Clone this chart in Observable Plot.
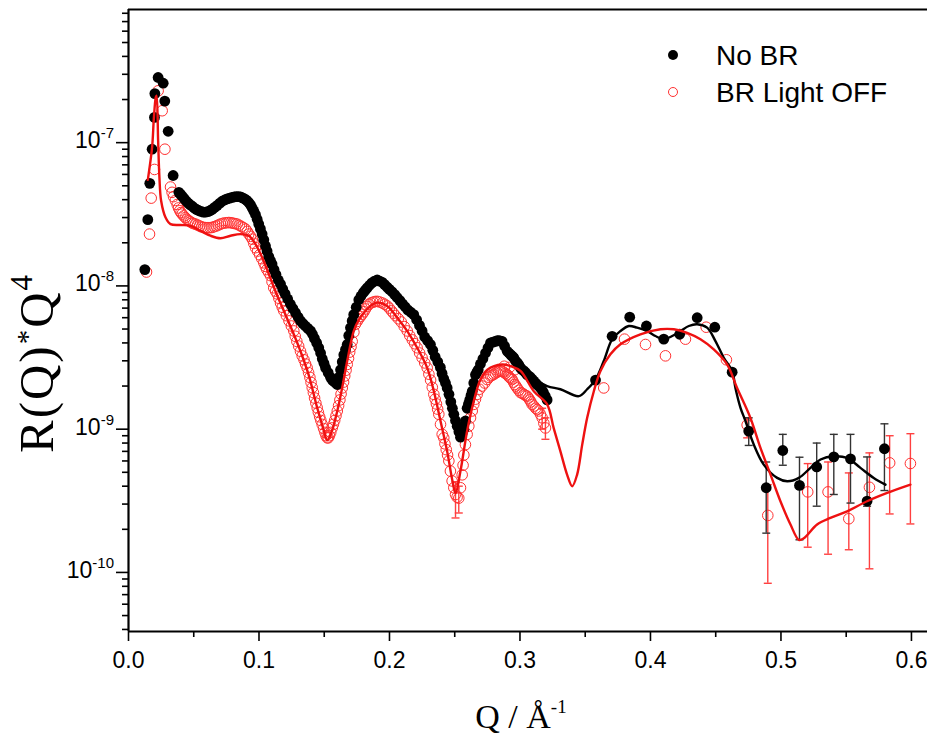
<!DOCTYPE html>
<html>
<head>
<meta charset="utf-8">
<script src="https://cdn.jsdelivr.net/npm/d3@7"></script>
<script src="https://cdn.jsdelivr.net/npm/@observablehq/plot@0.6"></script>
<style>
  html, body { margin: 0; padding: 0; background: #fff; }
  #chart svg { display: block; }
</style>
</head>
<body>
<div id="chart"></div>
<script>
// ---------- axis ticks ----------
const xMajor = [0.0, 0.1, 0.2, 0.3, 0.4, 0.5, 0.6];
const xMinor = [0.05, 0.15, 0.25, 0.35, 0.45, 0.55];
const yMajor = [1e-10, 1e-9, 1e-8, 1e-7];
const yMajorExp = ["-10", "-9", "-8", "-7"];
const yMinor = [4e-11, 5e-11, 6e-11, 7e-11, 8e-11, 9e-11,
  2e-10, 3e-10, 4e-10, 5e-10, 6e-10, 7e-10, 8e-10, 9e-10,
  2e-9, 3e-9, 4e-9, 5e-9, 6e-9, 7e-9, 8e-9, 9e-9,
  2e-8, 3e-8, 4e-8, 5e-8, 6e-8, 7e-8, 8e-8, 9e-8,
  2e-7, 3e-7, 4e-7, 5e-7, 6e-7, 7e-7, 8e-7];
const xDomain = [0, 0.6123];
const yDomain = [3.87e-11, 8.5e-7];

// ---------- series: No BR (data) ----------
const noBrQ = [0.0125,0.0148,0.0163,0.0181,0.0199,0.0202,0.0227,0.0266,0.0278,0.0304,0.0342,
  0.0386,0.0400,0.0414,0.0428,0.0443,0.0458,0.0473,0.0488,0.0503,0.0520,0.0537,0.0555,0.0573,0.0590,0.0609,0.0625,0.0641,0.0660,0.0680,0.0700,0.0718,0.0737,0.0756,0.0775,0.0794,0.0810,0.0826,0.0842,0.0858,0.0874,0.0890,0.0906,0.0922,0.0935,0.0948,0.0960,0.0973,0.0986,0.0998,
  0.1011,0.1024,0.1037,0.1050,0.1062,0.1075,0.1088,0.1100,0.1115,0.1130,0.1148,0.1165,0.1182,0.1200,0.1220,0.1241,0.1260,0.1280,0.1300,0.1318,0.1337,0.1355,0.1375,0.1395,0.1410,0.1425,0.1442,0.1458,0.1472,0.1485,0.1498,0.1510,0.1530,0.1548,0.1562,0.1575,0.1588,0.1600,0.1612,0.1625,0.1638,0.1650,0.1663,0.1676,0.1688,0.1701,0.1714,0.1726,0.1745,0.1765,0.1782,0.1800,0.1815,0.1829,0.1847,0.1865,0.1885,0.1906,0.1925,0.1945,0.1963,0.1982,
  0.2000,0.2020,0.2040,0.2059,0.2080,0.2100,0.2120,0.2140,0.2163,0.2186,0.2208,0.2230,0.2250,0.2270,0.2292,0.2314,0.2332,0.2350,0.2370,0.2390,0.2403,0.2416,0.2429,0.2442,0.2456,0.2470,0.2482,0.2493,0.2506,0.2519,0.2532,0.2544,0.2557,0.2570,0.2582,0.2595,0.2605,0.2615,0.2625,0.2634,0.2646,0.2659,0.2670,0.2680,0.2697,0.2716,0.2736,0.2755,0.2774,0.2793,0.2812,0.2826,0.2840,0.2852,0.2863,0.2882,0.2902,0.2916,0.2930,0.2942,0.2953,0.2966,0.2980,0.2992,
  0.3004,0.3017,0.3030,0.3043,0.3055,0.3068,0.3080,0.3093,0.3106,0.3118,0.3130,0.3143,0.3157,0.3170,0.3180,0.3194,0.3208,
  0.3579,0.3706,0.3841,0.3969,0.4102,0.4224,0.4358,0.4493,0.4626,0.4753,0.4887,0.5014,0.5142,0.5274,0.5405,0.5533,0.5660,0.5793];
const noBrR = [1.3e-8,2.9e-8,5.2e-8,9.0e-8,1.5e-7,2.2e-7,2.85e-7,2.6e-7,1.95e-7,1.2e-7,5.9e-8,
  4.5e-8,4.35e-8,4.2e-8,4.05e-8,3.9e-8,3.78e-8,3.68e-8,3.6e-8,3.5e-8,3.42e-8,3.36e-8,3.31e-8,3.27e-8,3.27e-8,3.3e-8,3.35e-8,3.42e-8,3.53e-8,3.65e-8,3.78e-8,3.9e-8,3.98e-8,4.05e-8,4.1e-8,4.15e-8,4.18e-8,4.2e-8,4.2e-8,4.18e-8,4.12e-8,4.05e-8,3.95e-8,3.82e-8,3.68e-8,3.5e-8,3.33e-8,3.15e-8,2.92e-8,2.7e-8,
  2.5e-8,2.3e-8,2.1e-8,1.9e-8,1.75e-8,1.6e-8,1.5e-8,1.42e-8,1.3e-8,1.2e-8,1.1e-8,1.03e-8,9.5e-9,8.8e-9,8.1e-9,7.45e-9,6.95e-9,6.5e-9,6.05e-9,5.7e-9,5.45e-9,5.25e-9,5.05e-9,4.85e-9,4.6e-9,4.3e-9,4.0e-9,3.7e-9,3.4e-9,3.1e-9,2.88e-9,2.68e-9,2.48e-9,2.3e-9,2.2e-9,2.15e-9,2.1e-9,2.05e-9,2.3e-9,2.6e-9,2.95e-9,3.3e-9,3.6e-9,3.9e-9,4.5e-9,5.1e-9,5.7e-9,6.3e-9,7.1e-9,8.0e-9,8.5e-9,9.0e-9,9.35e-9,9.7e-9,1.01e-8,1.05e-8,1.08e-8,1.1e-8,1.08e-8,1.06e-8,1.02e-8,9.8e-9,
  9.45e-9,9.1e-9,8.7e-9,8.3e-9,7.9e-9,7.5e-9,7.15e-9,6.8e-9,6.55e-9,6.3e-9,5.8e-9,5.3e-9,4.85e-9,4.4e-9,4.15e-9,3.9e-9,3.55e-9,3.2e-9,2.95e-9,2.7e-9,2.45e-9,2.25e-9,2.1e-9,1.94e-9,1.75e-9,1.55e-9,1.4e-9,1.27e-9,1.15e-9,1.05e-9,9.6e-10,8.8e-10,9.4e-10,1.0e-9,1.14e-9,1.4e-9,1.5e-9,1.6e-9,1.72e-9,1.84e-9,2.1e-9,2.4e-9,2.5e-9,2.6e-9,2.85e-9,3.1e-9,3.4e-9,3.7e-9,4.0e-9,4.05e-9,4.1e-9,4.15e-9,4.15e-9,4.12e-9,4.1e-9,3.8e-9,3.5e-9,3.4e-9,3.3e-9,3.22e-9,3.15e-9,3.0e-9,2.9e-9,2.8e-9,
  2.68e-9,2.6e-9,2.55e-9,2.48e-9,2.4e-9,2.35e-9,2.3e-9,2.23e-9,2.17e-9,2.1e-9,2.05e-9,2.0e-9,1.94e-9,1.87e-9,1.8e-9,1.7e-9,1.6e-9,
  2.2e-9,4.45e-9,6.05e-9,5.25e-9,4.25e-9,4.6e-9,6.0e-9,5.15e-9,2.5e-9,9.7e-10,3.9e-10,7.1e-10,4.05e-10,5.45e-10,6.4e-10,6.2e-10,3.15e-10,7.3e-10];
const noBrErrQ  = [0.4753, 0.4887, 0.5014, 0.5142, 0.5274, 0.5405, 0.5533, 0.5660, 0.5793];
const noBrErrLo = [7.7e-10, 1.88e-10, 5.6e-10, 1.69e-10, 2.9e-10, 3.5e-10, 3.05e-10, 2.9e-10, 3.73e-10];
const noBrErrHi = [1.2e-9, 5.9e-10, 9.2e-10, 6.37e-10, 8.0e-10, 9.2e-10, 9.2e-10, 6.4e-10, 1.09e-9];

// ---------- series: No BR (fit) ----------
const noBrFitQ = [0.3080,0.3208,0.3310,0.3451,0.3515,0.3579,0.3642,0.3706,0.3770,0.3834,0.3898,0.3975,0.4038,0.4102,0.4166,0.4230,0.4294,0.4358,0.4434,0.4498,0.4562,0.4626,0.4651,0.4690,0.4728,0.4792,0.4868,0.4971,0.5048,0.5137,0.5226,0.5303,0.5405,0.5507,0.5609,0.5711,0.5801];
const noBrFitR = [2.3e-9,2.0e-9,1.9e-9,1.7e-9,1.9e-9,2.22e-9,2.99e-9,4.24e-9,4.84e-9,5.25e-9,5.11e-9,4.84e-9,4.47e-9,4.24e-9,4.47e-9,4.84e-9,5.25e-9,5.4e-9,5.11e-9,4.12e-9,3.15e-9,2.55e-9,1.94e-9,1.41e-9,1.14e-9,7.8e-10,5.66e-10,4.57e-10,4.33e-10,4.57e-10,5.37e-10,6.14e-10,6.47e-10,6.3e-10,5.37e-10,4.57e-10,4.1e-10];

// ---------- series: BR Light OFF (data) ----------
const offQ = [0.0138,0.0161,0.0174,0.0199,0.0227,0.0258,0.0279,
  0.0322,0.0334,0.0345,0.0359,0.0373,0.0383,0.0393,0.0402,0.0411,0.0423,0.0435,0.0448,0.0462,0.0475,0.0488,0.0500,0.0513,0.0529,0.0545,0.0561,0.0577,0.0593,0.0609,0.0625,0.0641,0.0657,0.0673,0.0689,0.0705,0.0721,0.0737,0.0753,0.0769,0.0785,0.0801,0.0817,0.0833,0.0849,0.0865,0.0881,0.0897,0.0910,0.0922,0.0935,0.0948,0.0960,0.0973,0.0989,
  0.1005,0.1021,0.1037,0.1048,0.1060,0.1074,0.1088,0.1100,0.1113,0.1127,0.1140,0.1152,0.1165,0.1178,0.1190,0.1210,0.1230,0.1248,0.1267,0.1278,0.1290,0.1304,0.1318,0.1331,0.1345,0.1357,0.1369,0.1380,0.1390,0.1399,0.1408,0.1417,0.1426,0.1436,0.1446,0.1455,0.1465,0.1474,0.1484,0.1495,0.1505,0.1514,0.1523,0.1531,0.1540,0.1550,0.1561,0.1570,0.1580,0.1590,0.1600,0.1610,0.1620,0.1629,0.1638,0.1648,0.1657,0.1667,0.1676,0.1686,0.1695,0.1705,0.1714,0.1727,0.1739,0.1752,0.1765,0.1778,0.1791,0.1804,0.1816,0.1829,0.1842,0.1858,0.1875,0.1890,0.1906,0.1925,0.1945,0.1963,0.1982,0.1998,
  0.2015,0.2030,0.2046,0.2068,0.2090,0.2113,0.2136,0.2155,0.2175,0.2193,0.2212,0.2231,0.2250,0.2270,0.2289,0.2302,0.2315,0.2328,0.2340,0.2350,0.2360,0.2369,0.2378,0.2391,0.2404,0.2416,0.2425,0.2435,0.2445,0.2455,0.2467,0.2480,0.2493,0.2506,0.2518,0.2531,0.2544,0.2557,0.2564,0.2570,0.2582,0.2595,0.2608,0.2621,0.2634,0.2646,0.2659,0.2672,0.2690,0.2710,0.2730,0.2749,0.2762,0.2775,0.2787,0.2799,0.2812,0.2825,0.2838,0.2850,0.2862,0.2875,0.2880,0.2888,0.2902,0.2911,0.2920,0.2920,0.2930,0.2940,0.2950,0.2960,0.2960,0.2969,0.2978,0.2991,
  0.3004,0.3017,0.3030,0.3042,0.3055,0.3065,0.3075,0.3084,0.3093,0.3107,0.3120,0.3132,0.3144,0.3157,0.3170,0.3183,0.3195,
  0.3642,0.3801,0.3962,0.4115,0.4268,0.4427,0.4582,0.4741,0.4899,0.5205,0.5361,0.5520,0.5678,0.5833,0.5992];
const offR = [1.25e-8,2.3e-8,4.1e-8,6.5e-8,2.3e-7,1.67e-7,9.0e-8,
  4.9e-8,4.5e-8,4.2e-8,3.95e-8,3.7e-8,3.5e-8,3.35e-8,3.25e-8,3.17e-8,3.08e-8,3.0e-8,2.92e-8,2.85e-8,2.8e-8,2.75e-8,2.72e-8,2.7e-8,2.66e-8,2.62e-8,2.58e-8,2.56e-8,2.55e-8,2.55e-8,2.55e-8,2.56e-8,2.59e-8,2.62e-8,2.66e-8,2.7e-8,2.73e-8,2.75e-8,2.76e-8,2.77e-8,2.76e-8,2.74e-8,2.72e-8,2.7e-8,2.65e-8,2.6e-8,2.55e-8,2.49e-8,2.4e-8,2.3e-8,2.22e-8,2.12e-8,1.98e-8,1.85e-8,1.75e-8,
  1.65e-8,1.55e-8,1.45e-8,1.37e-8,1.3e-8,1.24e-8,1.18e-8,1.07e-8,9.7e-9,9.2e-9,8.8e-9,8.2e-9,7.6e-9,7.1e-9,6.7e-9,6.2e-9,5.7e-9,5.25e-9,4.85e-9,4.45e-9,4.1e-9,3.8e-9,3.5e-9,3.25e-9,3.05e-9,2.85e-9,2.68e-9,2.48e-9,2.3e-9,2.12e-9,1.95e-9,1.8e-9,1.65e-9,1.52e-9,1.41e-9,1.31e-9,1.22e-9,1.15e-9,1.08e-9,1.01e-9,9.5e-10,9.0e-10,8.7e-10,8.7e-10,9.0e-10,9.5e-10,1.02e-9,1.08e-9,1.15e-9,1.24e-9,1.34e-9,1.46e-9,1.6e-9,1.76e-9,1.94e-9,2.13e-9,2.35e-9,2.58e-9,2.83e-9,3.12e-9,3.45e-9,3.75e-9,4.1e-9,4.75e-9,5.4e-9,5.65e-9,5.9e-9,6.12e-9,6.35e-9,6.6e-9,6.9e-9,7.2e-9,7.45e-9,7.6e-9,7.7e-9,7.78e-9,7.8e-9,7.72e-9,7.6e-9,7.45e-9,7.25e-9,7.0e-9,
  6.7e-9,6.45e-9,6.2e-9,5.9e-9,5.6e-9,5.2e-9,4.85e-9,4.5e-9,4.2e-9,3.95e-9,3.7e-9,3.4e-9,3.15e-9,2.9e-9,2.68e-9,2.42e-9,2.2e-9,1.96e-9,1.75e-9,1.62e-9,1.5e-9,1.38e-9,1.27e-9,1.08e-9,9.2e-10,8.7e-10,7.9e-10,7.2e-10,6.6e-10,6.0e-10,5.1e-10,4.35e-10,3.9e-10,3.5e-10,3.35e-10,3.3e-10,3.9e-10,4.8e-10,5.6e-10,6.6e-10,7.8e-10,9.2e-10,1.05e-9,1.2e-9,1.34e-9,1.49e-9,1.62e-9,1.75e-9,1.9e-9,2.0e-9,2.1e-9,2.22e-9,2.3e-9,2.35e-9,2.38e-9,2.41e-9,2.46e-9,2.5e-9,2.53e-9,2.55e-9,2.53e-9,2.5e-9,2.75e-9,2.45e-9,2.4e-9,2.35e-9,2.3e-9,2.7e-9,2.26e-9,2.22e-9,2.13e-9,2.05e-9,2.6e-9,2.0e-9,1.94e-9,1.87e-9,
  1.8e-9,1.78e-9,1.75e-9,1.72e-9,1.7e-9,1.65e-9,1.6e-9,1.55e-9,1.49e-9,1.45e-9,1.4e-9,1.37e-9,1.34e-9,1.27e-9,1.2e-9,1.1e-9,1.02e-9,
  1.94e-9,4.25e-9,3.9e-9,3.25e-9,4.25e-9,5.15e-9,3.05e-9,1.07e-9,2.5e-10,3.65e-10,3.65e-10,2.37e-10,3.93e-10,5.82e-10,5.76e-10];
const offErrQ  = [0.2506, 0.2531, 0.3170, 0.3195, 0.4741, 0.4899, 0.5205, 0.5361, 0.5520, 0.5678, 0.5833, 0.5992];
const offErrLo = [2.4e-10, 2.6e-10, 1.0e-9, 8.5e-10, 8.7e-10, 8.4e-11, 1.5e-10, 1.34e-10, 1.44e-10, 1.06e-10, 2.56e-10, 2.18e-10];
const offErrHi = [4.3e-10, 4.0e-10, 1.4e-9, 1.2e-9, 1.2e-9, 4.1e-10, 5.75e-10, 5.9e-10, 4.95e-10, 6.83e-10, 9.0e-10, 9.3e-10];

// ---------- series: BR Light OFF (fit) ----------
const offFitQ = [0.0148,0.0181,0.0194,0.0209,0.0215,0.0227,0.0237,0.0250,0.0284,0.0322,0.0398,0.0475,0.0552,0.0628,0.0705,0.0782,0.0858,0.0922,0.0973,0.1024,0.1075,0.1130,0.1190,0.1250,0.1318,0.1380,0.1446,0.1490,0.1523,0.1555,0.1600,0.1640,0.1676,0.1726,0.1765,0.1804,0.1850,0.1906,0.1982,0.2059,0.2136,0.2212,0.2289,0.2340,0.2391,0.2442,0.2483,0.2506,0.2544,0.2595,0.2646,0.2697,0.2750,0.2863,0.2930,0.3004,0.3106,0.3208,0.3258,0.3310,0.3361,0.3400,0.3438,0.3477,0.3515,0.3566,0.3617,0.3693,0.3770,0.3923,0.4076,0.4179,0.4281,0.4383,0.4485,0.4587,0.4664,0.4766,0.4843,0.4920,0.4996,0.5073,0.5137,0.5175,0.5277,0.5379,0.5507,0.5660,0.5814,0.5992];
const offFitR = [5.5e-8,9.3e-8,1.46e-7,2.07e-7,2.13e-7,1.03e-7,5.7e-8,3.93e-8,3.0e-8,2.7e-8,2.66e-8,2.63e-8,2.42e-8,2.24e-8,2.15e-8,2.24e-8,2.3e-8,2.24e-8,1.96e-8,1.58e-8,1.21e-8,9.0e-9,6.7e-9,5.0e-9,3.5e-9,2.4e-9,1.41e-9,1.03e-9,8.4e-10,9.5e-10,1.34e-9,2.0e-9,2.99e-9,4.84e-9,5.8e-9,6.5e-9,7.2e-9,7.64e-9,7.25e-9,6.0e-9,4.84e-9,3.7e-9,2.68e-9,1.84e-9,1.14e-9,7.0e-10,4.33e-10,3.57e-10,5.1e-10,9.7e-10,1.57e-9,2.22e-9,2.6e-9,2.83e-9,2.75e-9,2.55e-9,1.84e-9,1.49e-9,1.02e-9,7.0e-10,4.82e-10,4.0e-10,4.82e-10,7.8e-10,1.2e-9,1.84e-9,2.55e-9,3.33e-9,3.91e-9,4.59e-9,4.98e-9,4.98e-9,4.7e-9,4.24e-9,3.6e-9,2.83e-9,1.94e-9,1.2e-9,7.4e-10,4.82e-10,3.14e-10,2.16e-10,1.69e-10,1.73e-10,2.16e-10,2.4e-10,2.67e-10,3.14e-10,3.59e-10,4.1e-10];

const legendNames = ["No BR", "BR Light OFF"];

// ---------- tables ----------
const zip = (qs, rs) => qs.map((q, i) => ({q, r: rs[i]}));
const zipErr = (qs, lo, hi) => qs.map((q, i) => ({q, lo: lo[i], hi: hi[i]}));
const noBr = zip(noBrQ, noBrR), noBrFit = zip(noBrFitQ, noBrFitR);
const off = zip(offQ, offR), offFit = zip(offFitQ, offFitR);
const noBrErr = zipErr(noBrErrQ, noBrErrLo, noBrErrHi);
const offErr = zipErr(offErrQ, offErrLo, offErrHi);

const BLACK = "#000000", RED = "#ee1111", REDPT = "#ff3030", BARK = "#333333", BARR = "#ff4040";
const capSymbol = { draw(ctx, size) { const r = Math.sqrt(size / Math.PI); ctx.moveTo(-r, 0); ctx.lineTo(r, 0); } };

const chart = Plot.plot({
  width: 927, height: 740,
  marginLeft: 128, marginRight: 0, marginTop: 9, marginBottom: 109,
  x: { domain: xDomain },
  y: { type: "log", domain: yDomain },
  style: { fontFamily: "'Liberation Sans', Arial, sans-serif", fontSize: "23px", background: "#fff", color: "#000" },
  marks: [
    Plot.axisX({ ticks: xMinor, tickSize: 6, tickFormat: () => "", label: null, strokeWidth: 1.6 }),
    Plot.axisX({ ticks: xMajor, tickSize: 10, tickPadding: 10, tickFormat: d3.format(".1f"), label: null, strokeWidth: 1.6, fontSize: 23 }),
    Plot.axisY({ ticks: yMinor, tickSize: 6, tickFormat: () => "", label: null, strokeWidth: 1.6 }),
    Plot.axisY({ ticks: yMajor, tickSize: 12, tickFormat: () => "", label: null, strokeWidth: 1.6 }),
    Plot.ruleX([xDomain[0]], { strokeWidth: 2.2 }),
    Plot.ruleY([yDomain[0]], { strokeWidth: 2.2 }),
    Plot.ruleY([yDomain[1]], { strokeWidth: 2.2 }),
    // BR Light OFF error bars + points
    Plot.ruleX(offErr, { x: "q", y1: "lo", y2: "hi", stroke: BARR, strokeWidth: 1.4 }),
    Plot.dot(offErr, { x: "q", y: "lo", symbol: capSymbol, r: 4, stroke: BARR, strokeWidth: 1.4 }),
    Plot.dot(offErr, { x: "q", y: "hi", symbol: capSymbol, r: 4, stroke: BARR, strokeWidth: 1.4 }),
    Plot.dot(off, { x: "q", y: "r", r: 5.3, stroke: REDPT, strokeWidth: 1, fill: "none" }),
    // No BR error bars + points
    Plot.ruleX(noBrErr, { x: "q", y1: "lo", y2: "hi", stroke: BARK, strokeWidth: 1.4 }),
    Plot.dot(noBrErr, { x: "q", y: "lo", symbol: capSymbol, r: 4, stroke: BARK, strokeWidth: 1.4 }),
    Plot.dot(noBrErr, { x: "q", y: "hi", symbol: capSymbol, r: 4, stroke: BARK, strokeWidth: 1.4 }),
    Plot.dot(noBr, { x: "q", y: "r", r: 5.4, fill: BLACK, stroke: "none" }),
    // fits
    Plot.line(noBrFit, { x: "q", y: "r", stroke: BLACK, strokeWidth: 2.4, curve: "catmull-rom" }),
    Plot.line(offFit, { x: "q", y: "r", stroke: RED, strokeWidth: 2.4, curve: "catmull-rom" })
  ]
});
document.getElementById("chart").appendChild(chart);

// ---------- custom labels through the library scales ----------
const svg = d3.select(chart);
const ys = chart.scale("y");
const g = svg.append("g").attr("fill", "#000");
yMajor.forEach((v, i) => {
  const t = g.append("text")
    .attr("x", 114).attr("y", ys.apply(v) + 6)
    .attr("text-anchor", "end")
    .attr("font-family", "'Liberation Sans', Arial, sans-serif")
    .attr("font-size", 23);
  t.append("tspan").text("10");
  t.append("tspan").attr("font-size", 15).attr("dy", -10).text(yMajorExp[i]);
});
// x title
const xt = g.append("text").attr("x", 521).attr("y", 728).attr("text-anchor", "middle")
  .attr("font-family", "'Liberation Serif', 'Times New Roman', serif").attr("font-size", 34);
xt.append("tspan").text("Q / Å");
xt.append("tspan").attr("font-size", 19).attr("dy", -15).text("-1");
// y title
const yt = g.append("text").attr("transform", "translate(53,363) rotate(-90)").attr("text-anchor", "middle")
  .attr("font-family", "'Liberation Serif', 'Times New Roman', serif").attr("font-size", 49)
  .attr("letter-spacing", 2);
yt.append("tspan").text("R(Q)");
yt.append("tspan").attr("font-size", 29).attr("dy", -16).text("*");
yt.append("tspan").attr("dy", 16).text("Q");
yt.append("tspan").attr("font-size", 31).attr("dy", -21).text("4");
// legend
const lg = svg.append("g").attr("font-family", "'Liberation Sans', Arial, sans-serif").attr("font-size", 28)
  .attr("text-anchor", "start").attr("fill", "#000");
lg.append("circle").attr("cx", 673).attr("cy", 55).attr("r", 5).attr("fill", BLACK);
lg.append("text").attr("x", 716).attr("y", 65).text(legendNames[0]);
lg.append("circle").attr("cx", 673).attr("cy", 92).attr("r", 4.5).attr("fill", "none").attr("stroke", REDPT).attr("stroke-width", 1);
lg.append("text").attr("x", 716).attr("y", 102).text(legendNames[1]);
</script>
</body>
</html>
